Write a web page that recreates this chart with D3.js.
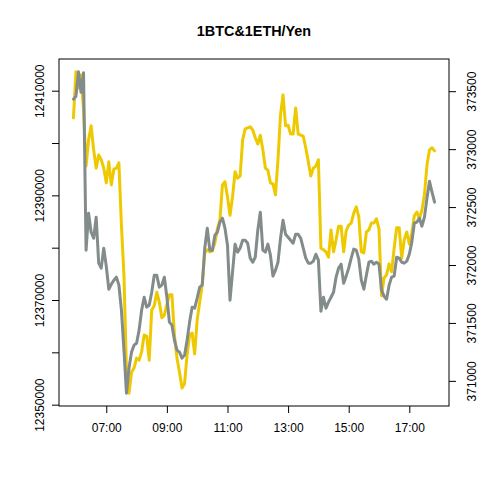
<!DOCTYPE html>
<html><head><meta charset="utf-8">
<script src="https://cdn.jsdelivr.net/npm/d3@7"></script>
<style>html,body{margin:0;padding:0;background:#fff}</style>
</head><body><svg id="c" width="480" height="480"></svg>
<script>
const chartTitle = "1BTC&1ETH/Yen";
const startTime = "05:55";
const stepMinutes = 5;
const btc = [12404800,12413600,12410500,12413000,12406300,12395600,12400600,12403300,12398700,12395200,
12397700,12396800,12395200,12392400,12396400,12392000,12395000,12395200,12396200,12384300,
12374800,12356600,12352200,12356200,12357000,12358900,12358500,12360100,12363300,12363100,
12358500,12368100,12368900,12371500,12369600,12366600,12367100,12369100,12371000,12371000,
12363300,12358900,12356200,12353200,12354000,12359500,12363300,12363700,12359700,12366200,
12369600,12372900,12379000,12379600,12379200,12379400,12380900,12383600,12385300,12392000,
12392600,12389700,12386200,12389700,12394500,12393300,12393700,12400600,12402700,12402900,
12403100,12402500,12401000,12399800,12401500,12398700,12395200,12394800,12392400,12392200,
12390100,12396800,12405400,12409200,12403300,12403400,12401700,12401700,12406700,12401700,
12401500,12401300,12399100,12396400,12393700,12395200,12395600,12396800,12379900,12379600,
12379200,12378200,12383400,12379200,12381500,12384100,12384100,12379200,12383200,12384300,
12384700,12386600,12387800,12385900,12379200,12379000,12383000,12383400,12384700,12384700,
12385500,12383600,12370800,12374200,12374800,12376900,12375400,12379900,12383800,12383800,
12378000,12381500,12383000,12380700,12382800,12386100,12386800,12385500,12387200,12390100,
12395800,12398700,12399100,12398500];
const eth = [373431,373457,373667,373491,373660,372128,372447,372283,372231,372413,
372016,371973,372145,371990,371791,371834,371869,371895,371826,371610,
371265,370894,371110,371248,371308,371325,371438,371610,371722,371636,
371653,371765,371912,371912,371809,371826,371895,371722,371507,371481,
371351,371265,371248,371196,371222,371351,371507,371636,371627,371714,
371809,371826,372145,372318,372128,372128,372257,372283,372370,372404,
372318,372171,371696,371938,372180,372111,372145,372214,372214,372188,
372059,372024,372067,372300,372456,372128,372111,372180,372085,371904,
371955,372024,372231,372387,372266,372240,372214,372188,372266,372266,
372231,372145,372059,372016,372016,372033,372093,372042,371601,371722,
371627,371679,371722,371765,371895,371973,372007,371843,371904,371973,
372059,372137,372128,372050,371869,371791,371912,372024,372033,372007,
372024,372007,371783,371731,371705,371826,371895,371904,372067,372059,
372024,372016,372033,372093,372197,372361,372370,372404,372335,372413,
372577,372723,372628,372542];
const xTickLabels = ["07:00","09:00","11:00","13:00","15:00","17:00"];
const leftTicks = [12350000,12360000,12370000,12380000,12390000,12400000,12410000];
const leftLabels = [12350000,12370000,12390000,12410000];
const rightTicks = [371000,371500,372000,372500,373000,373500];

const parseT = d3.timeParse("%H:%M");
const t0 = parseT(startTime);
const times = btc.map((_, i) => d3.timeMinute.offset(t0, i * stepMinutes));
const xTickDates = xTickLabels.map(parseT);

const L = 59, R = 449, T = 59, B = 406;
function pad(ext){ const r = ext[1]-ext[0]; return [ext[0]-0.04*r, ext[1]+0.04*r]; }
const tExt = d3.extent(times);
const tr = tExt[1]-tExt[0];
const x = d3.scaleTime().domain([new Date(+tExt[0]-0.04*tr), new Date(+tExt[1]+0.04*tr)]).range([L, R]);
const yL = d3.scaleLinear().domain(pad(d3.extent(btc))).range([B, T]);
const yR = d3.scaleLinear().domain(pad(d3.extent(eth))).range([B, T]);

const svg = d3.select("#c");
const font = "'Liberation Sans', Arial, Helvetica, sans-serif";

svg.append("text").attr("x", (L+R)/2).attr("y", 35.5).attr("text-anchor","middle")
  .attr("font-family", font).attr("font-weight","bold").attr("font-size", 14.4).text(chartTitle);

const lineL = d3.line().x((d,i)=>x(times[i])).y(d=>yL(d));
const lineR = d3.line().x((d,i)=>x(times[i])).y(d=>yR(d));
svg.append("path").datum(btc).attr("d", lineL).attr("fill","none").attr("stroke","#EEC900")
  .attr("stroke-width",3).attr("stroke-linejoin","round").attr("stroke-linecap","round");
svg.append("path").datum(eth).attr("d", lineR).attr("fill","none").attr("stroke","#838B8B")
  .attr("stroke-width",3).attr("stroke-linejoin","round").attr("stroke-linecap","round");

svg.append("rect").attr("x",L).attr("y",T).attr("width",R-L).attr("height",B-T)
  .attr("fill","none").attr("stroke","#000").attr("stroke-width",1);

const gx = svg.append("g").attr("transform",`translate(0,${B})`)
  .call(d3.axisBottom(x).tickValues(xTickDates).tickSize(7).tickFormat((d,i)=>xTickLabels[i]));
gx.selectAll("text").attr("y",26).attr("dy",0);

const gl = svg.append("g").attr("transform",`translate(${L},0)`)
  .call(d3.axisLeft(yL).tickValues(leftTicks).tickSize(7)
    .tickFormat(d => leftLabels.includes(d) ? String(d) : ""));
gl.selectAll("text").attr("x",0).attr("dy",0).attr("text-anchor","middle")
  .attr("transform","translate(-15.5,0) rotate(-90)");

const gr = svg.append("g").attr("transform",`translate(${R},0)`)
  .call(d3.axisRight(yR).tickValues(rightTicks).tickSize(7).tickFormat(d=>String(d)));
gr.selectAll("text").attr("x",0).attr("dy",0).attr("text-anchor","middle")
  .attr("transform","translate(27,0) rotate(-90)");

svg.selectAll(".domain").remove();
svg.selectAll(".tick line").attr("stroke","#000");
svg.selectAll(".tick text").attr("font-family",font).attr("font-size",12).attr("fill","#000");
</script></body></html>
